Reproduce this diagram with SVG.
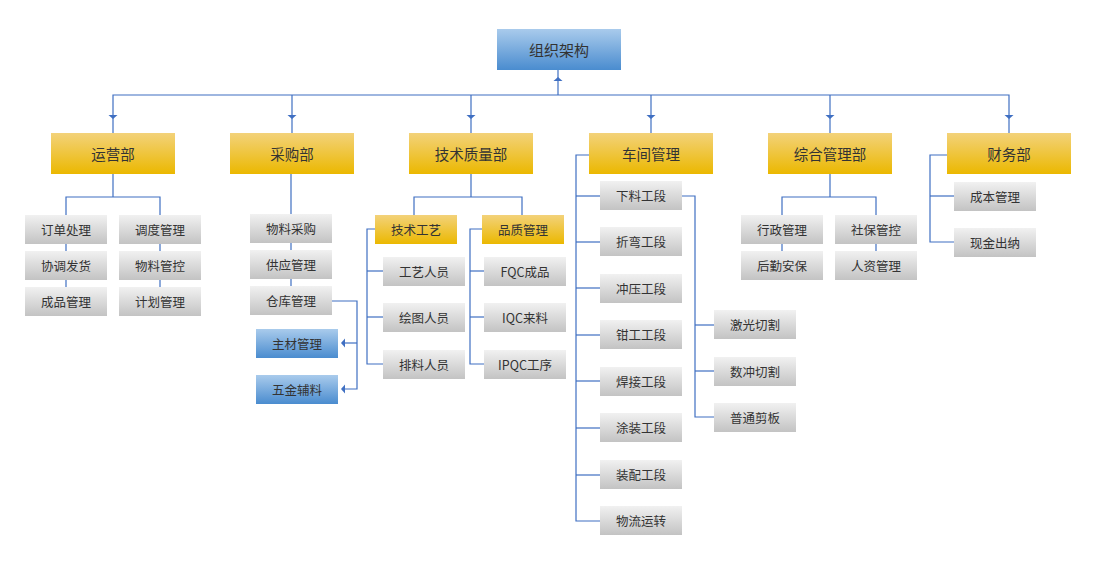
<svg xmlns="http://www.w3.org/2000/svg" width="1100" height="569" viewBox="0 0 1100 569">
<defs>
<linearGradient id="gBlue" x1="0" y1="0" x2="0" y2="1"><stop offset="0" stop-color="#a9cbec"/><stop offset="1" stop-color="#4a8ccf"/></linearGradient>
<linearGradient id="gGold" x1="0" y1="0" x2="0" y2="1"><stop offset="0" stop-color="#f3d27a"/><stop offset="1" stop-color="#ebb800"/></linearGradient>
<linearGradient id="gGray" x1="0" y1="0" x2="0" y2="1"><stop offset="0" stop-color="#f1f1f1"/><stop offset="1" stop-color="#c3c3c3"/></linearGradient>
<path id="ad" d="M-4.5,0 L4.5,0 L0,4 Z" fill="#3f6fc2"/>
<path id="au" d="M-4.5,0 L4.5,0 L0,-4 Z" fill="#3f6fc2"/>
<path id="al" d="M0,-4.5 L0,4.5 L-4,0 Z" fill="#3f6fc2"/>
</defs>
<style>
text{font-family:"Noto Sans CJK SC","Noto Sans",sans-serif;fill:#333;text-anchor:middle;dominant-baseline:central}
.root{fill:url(#gBlue)}
.dept{fill:url(#gGold)}
.gray{fill:url(#gGray)}
.blue{fill:url(#gBlue)}
.t16{font-size:15px}
.t15{font-size:14.5px}
.t13{font-size:12.5px}
.c path,.c line,.c polyline{fill:none;stroke:#3f6fc2;stroke-width:1.2}
</style>
<rect width="1100" height="569" fill="#fff"/>
<g class="c" id="connectors">
<line x1="558" y1="70" x2="558" y2="95"/>
<polyline points="113,133 113,95 1009,95 1009,133"/>
<line x1="292" y1="95" x2="292" y2="133"/>
<line x1="471" y1="95" x2="471" y2="133"/>
<line x1="651" y1="95" x2="651" y2="133"/>
<line x1="830" y1="95" x2="830" y2="133"/>
<!-- 运营部 -->
<line x1="113" y1="174" x2="113" y2="197"/>
<polyline points="66,215 66,197 160,197 160,215"/>
<line x1="66" y1="244" x2="66" y2="287"/>
<line x1="160" y1="244" x2="160" y2="287"/>
<!-- 采购部 -->
<line x1="291" y1="174" x2="291" y2="286"/>
<polyline points="332,301 357,301 357,389 345,389"/>
<line x1="357" y1="343" x2="345" y2="343"/>
<!-- 技术质量部 -->
<line x1="471" y1="174" x2="471" y2="197"/>
<polyline points="414,215 414,197 522,197 522,215"/>
<polyline points="375,229 367,229 367,364 383,364"/>
<line x1="367" y1="271" x2="383" y2="271"/>
<line x1="367" y1="317" x2="383" y2="317"/>
<polyline points="482,229 470,229 470,364 484,364"/>
<line x1="470" y1="271" x2="484" y2="271"/>
<line x1="470" y1="317" x2="484" y2="317"/>
<!-- 车间管理 -->
<polyline points="589,155 576,155 576,521 600,521"/>
<line x1="576" y1="196" x2="600" y2="196"/>
<line x1="576" y1="242" x2="600" y2="242"/>
<line x1="576" y1="288" x2="600" y2="288"/>
<line x1="576" y1="335" x2="600" y2="335"/>
<line x1="576" y1="381" x2="600" y2="381"/>
<line x1="576" y1="428" x2="600" y2="428"/>
<line x1="576" y1="475" x2="600" y2="475"/>
<polyline points="682,196 695,196 695,417 714,417"/>
<line x1="695" y1="325" x2="714" y2="325"/>
<line x1="695" y1="371" x2="714" y2="371"/>
<!-- 综合管理部 -->
<line x1="830" y1="174" x2="830" y2="197"/>
<polyline points="782,215 782,197 876,197 876,215"/>
<line x1="782" y1="244" x2="782" y2="251"/>
<line x1="876" y1="244" x2="876" y2="251"/>
<!-- 财务部 -->
<polyline points="947,155 930,155 930,242 954,242"/>
<line x1="930" y1="196" x2="954" y2="196"/>
<!-- arrowheads -->
<use href="#au" x="558" y="81"/>
<use href="#ad" x="113" y="115"/>
<use href="#ad" x="292" y="115"/>
<use href="#ad" x="471" y="115"/>
<use href="#ad" x="651" y="115"/>
<use href="#ad" x="830" y="115"/>
<use href="#ad" x="1009" y="115"/>
<use href="#al" x="345" y="343"/>
<use href="#al" x="345" y="389"/>
</g>
<g id="n-root"><rect class="root" x="497" y="29" width="124" height="41"/><text class="t16" x="559" y="49.5">组织架构</text></g>
<g id="n-yunying"><rect class="dept" x="51" y="133" width="124" height="41"/><text class="t15" x="113" y="153.5">运营部</text></g>
<g id="n-caigou"><rect class="dept" x="230" y="133" width="124" height="41"/><text class="t15" x="292" y="153.5">采购部</text></g>
<g id="n-jishu"><rect class="dept" x="409" y="133" width="124" height="41"/><text class="t15" x="471" y="153.5">技术质量部</text></g>
<g id="n-chejian"><rect class="dept" x="589" y="133" width="124" height="41"/><text class="t15" x="651" y="153.5">车间管理</text></g>
<g id="n-zonghe"><rect class="dept" x="768" y="133" width="124" height="41"/><text class="t15" x="830" y="153.5">综合管理部</text></g>
<g id="n-caiwu"><rect class="dept" x="947" y="133" width="124" height="41"/><text class="t15" x="1009" y="153.5">财务部</text></g>

<g id="n-dingdan"><rect class="gray" x="25" y="215" width="82" height="29"/><text class="t13" x="66" y="229.5">订单处理</text></g>
<g id="n-xietiao"><rect class="gray" x="25" y="251" width="82" height="29"/><text class="t13" x="66" y="265.5">协调发货</text></g>
<g id="n-chengpin"><rect class="gray" x="25" y="287" width="82" height="29"/><text class="t13" x="66" y="301.5">成品管理</text></g>
<g id="n-diaodu"><rect class="gray" x="119" y="215" width="82" height="29"/><text class="t13" x="160" y="229.5">调度管理</text></g>
<g id="n-wuliaoguankong"><rect class="gray" x="119" y="251" width="82" height="29"/><text class="t13" x="160" y="265.5">物料管控</text></g>
<g id="n-jihua"><rect class="gray" x="119" y="287" width="82" height="29"/><text class="t13" x="160" y="301.5">计划管理</text></g>

<g id="n-wuliaocaigou"><rect class="gray" x="250" y="214" width="82" height="29"/><text class="t13" x="291" y="228.5">物料采购</text></g>
<g id="n-gongying"><rect class="gray" x="250" y="250" width="82" height="29"/><text class="t13" x="291" y="264.5">供应管理</text></g>
<g id="n-cangku"><rect class="gray" x="250" y="286" width="82" height="29"/><text class="t13" x="291" y="300.5">仓库管理</text></g>
<g id="n-zhucai"><rect class="blue" x="256" y="329" width="82" height="29"/><text class="t13" x="297" y="343.5">主材管理</text></g>
<g id="n-wujin"><rect class="blue" x="256" y="375" width="82" height="29"/><text class="t13" x="297" y="389.5">五金辅料</text></g>

<g id="n-jishugongyi"><rect class="dept" x="375" y="215" width="82" height="29"/><text class="t13" x="416" y="229.5">技术工艺</text></g>
<g id="n-pinzhi"><rect class="dept" x="482" y="215" width="82" height="29"/><text class="t13" x="523" y="229.5">品质管理</text></g>
<g id="n-gongyi"><rect class="gray" x="383" y="257" width="82" height="29"/><text class="t13" x="424" y="271.5">工艺人员</text></g>
<g id="n-huitu"><rect class="gray" x="383" y="303" width="82" height="29"/><text class="t13" x="424" y="317.5">绘图人员</text></g>
<g id="n-pailiao"><rect class="gray" x="383" y="350" width="82" height="29"/><text class="t13" x="424" y="364.5">排料人员</text></g>
<g id="n-fqc"><rect class="gray" x="484" y="257" width="82" height="29"/><text class="t13" x="525" y="271.5">FQC成品</text></g>
<g id="n-iqc"><rect class="gray" x="484" y="303" width="82" height="29"/><text class="t13" x="525" y="317.5">IQC来料</text></g>
<g id="n-ipqc"><rect class="gray" x="484" y="350" width="82" height="29"/><text class="t13" x="525" y="364.5">IPQC工序</text></g>

<g id="n-xialiao"><rect class="gray" x="600" y="181" width="82" height="29"/><text class="t13" x="641" y="195.5">下料工段</text></g>
<g id="n-zhewan"><rect class="gray" x="600" y="227" width="82" height="29"/><text class="t13" x="641" y="241.5">折弯工段</text></g>
<g id="n-chongya"><rect class="gray" x="600" y="274" width="82" height="29"/><text class="t13" x="641" y="288.5">冲压工段</text></g>
<g id="n-qiangong"><rect class="gray" x="600" y="320" width="82" height="29"/><text class="t13" x="641" y="334.5">钳工工段</text></g>
<g id="n-hanjie"><rect class="gray" x="600" y="367" width="82" height="29"/><text class="t13" x="641" y="381.5">焊接工段</text></g>
<g id="n-tuzhuang"><rect class="gray" x="600" y="413" width="82" height="29"/><text class="t13" x="641" y="427.5">涂装工段</text></g>
<g id="n-zhuangpei"><rect class="gray" x="600" y="460" width="82" height="29"/><text class="t13" x="641" y="474.5">装配工段</text></g>
<g id="n-wuliu"><rect class="gray" x="600" y="506" width="82" height="29"/><text class="t13" x="641" y="520.5">物流运转</text></g>
<g id="n-jiguang"><rect class="gray" x="714" y="310" width="82" height="29"/><text class="t13" x="755" y="324.5">激光切割</text></g>
<g id="n-shuchong"><rect class="gray" x="714" y="357" width="82" height="29"/><text class="t13" x="755" y="371.5">数冲切割</text></g>
<g id="n-putong"><rect class="gray" x="714" y="403" width="82" height="29"/><text class="t13" x="755" y="417.5">普通剪板</text></g>

<g id="n-xingzheng"><rect class="gray" x="741" y="215" width="82" height="29"/><text class="t13" x="782" y="229.5">行政管理</text></g>
<g id="n-houqin"><rect class="gray" x="741" y="251" width="82" height="29"/><text class="t13" x="782" y="265.5">后勤安保</text></g>
<g id="n-shebao"><rect class="gray" x="835" y="215" width="82" height="29"/><text class="t13" x="876" y="229.5">社保管控</text></g>
<g id="n-renzi"><rect class="gray" x="835" y="251" width="82" height="29"/><text class="t13" x="876" y="265.5">人资管理</text></g>

<g id="n-chengben"><rect class="gray" x="954" y="182" width="82" height="29"/><text class="t13" x="995" y="196.5">成本管理</text></g>
<g id="n-xianjin"><rect class="gray" x="954" y="228" width="82" height="29"/><text class="t13" x="995" y="242.5">现金出纳</text></g>
</svg>
